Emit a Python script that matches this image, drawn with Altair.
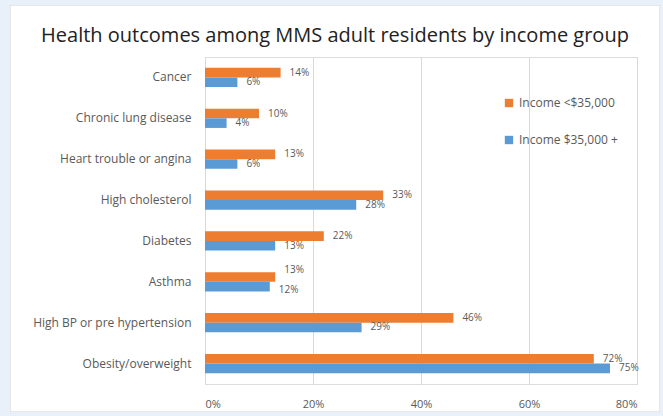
import altair as alt
import pandas as pd

categories = ["Cancer", "Chronic  lung disease", "Heart trouble or angina", "High cholesterol",
              "Diabetes", "Asthma", "High BP or pre hypertension", "Obesity/overweight"]
low_income = [14, 10, 13, 33, 22, 13, 46, 72]
high_income = [6, 4, 6, 28, 13, 12, 29, 75]
series = ["Income <$35,000", "Income $35,000 +"]
colors = ["#ED7D31", "#5B9BD5"]

rows = []
for c, a, b in zip(categories, low_income, high_income):
    rows.append({"cat": c, "series": series[0], "val": a})
    rows.append({"cat": c, "series": series[1], "val": b})
df = pd.DataFrame(rows)

font = "Open Sans"
grey = "#595959"

y_enc = alt.Y("cat:N", sort=categories, title=None,
              scale=alt.Scale(paddingInner=0.53, paddingOuter=0.265),
              axis=alt.Axis(labelFont=font, labelFontSize=12, labelColor=grey, ticks=False,
                            domainColor="#d9d9d9", labelPadding=14, labelLimit=200))
x_enc = alt.X("val:Q", title=None,
              scale=alt.Scale(domain=[0, 80]),
              axis=alt.Axis(values=[0, 20, 40, 60, 80], labelExpr="datum.value + '%'",
                            labelFont=font, labelFontSize=11, labelColor=grey,
                            ticks=False, domain=False, gridColor="#d9d9d9", labelPadding=14))
yoff = alt.YOffset("series:N", sort=series, scale=alt.Scale(paddingInner=0, paddingOuter=0))

one = "datum.cat == 'Cancer' && datum.series == 'Income <$35,000'"

# outer light-blue surround (thick stroke lying outside the white chart box)
surround = alt.Chart(df).mark_rect(filled=False, stroke="#e8f0f9", strokeWidth=80, clip=False).encode(
    x=alt.value(-235), x2=alt.value(495), y=alt.value(-92), y2=alt.value(395)
).transform_filter(one)

border = alt.Chart(df).mark_rect(filled=False, stroke="#d0d0d0", strokeWidth=1, clip=False).encode(
    x=alt.value(-195), x2=alt.value(455), y=alt.value(-52), y2=alt.value(355)
).transform_filter(one)

bars = alt.Chart(df).mark_bar().encode(
    y=y_enc, x=x_enc, yOffset=yoff,
    color=alt.Color("series:N", sort=series, scale=alt.Scale(domain=series, range=colors),
                    legend=alt.Legend(title=None, orient="none", legendX=298, legendY=40,
                                      symbolType="square", symbolSize=70, rowPadding=25,
                                      labelFont=font, labelFontSize=12, labelColor=grey)),
)

def label_layer(filt, dy):
    return alt.Chart(df).mark_text(align="left", baseline="middle", dx=9, dy=dy, font=font,
                                   fontSize=10, color=grey).encode(
        y=alt.Y("cat:N", sort=categories), x="val:Q", yOffset=yoff,
        text=alt.Text("label:N"),
    ).transform_filter(filt).transform_calculate(label="datum.val + '%'")

labels_main = label_layer("datum.cat != 'Asthma'", 0)
labels_a1 = label_layer("datum.cat == 'Asthma' && datum.series == 'Income <$35,000'", -7)
labels_a2 = label_layer("datum.cat == 'Asthma' && datum.series == 'Income $35,000 +'", 3)

chart = alt.layer(bars, labels_main, labels_a1, labels_a2, border, surround).properties(
    width=432, height=327,
    title=alt.TitleParams("Health outcomes among MMS adult residents by income group",
                          font=font, fontSize=20, fontWeight="normal", color="#222222",
                          anchor="middle", offset=-121, dx=-86),
    autosize=alt.AutoSizeParams(type="none"),
    padding={"left": 205, "top": 57, "right": 26, "bottom": 32},
).configure_view(stroke=None).configure(background="white")

chart.save("out.html", embed_options={"renderer": "svg", "actions": False})
